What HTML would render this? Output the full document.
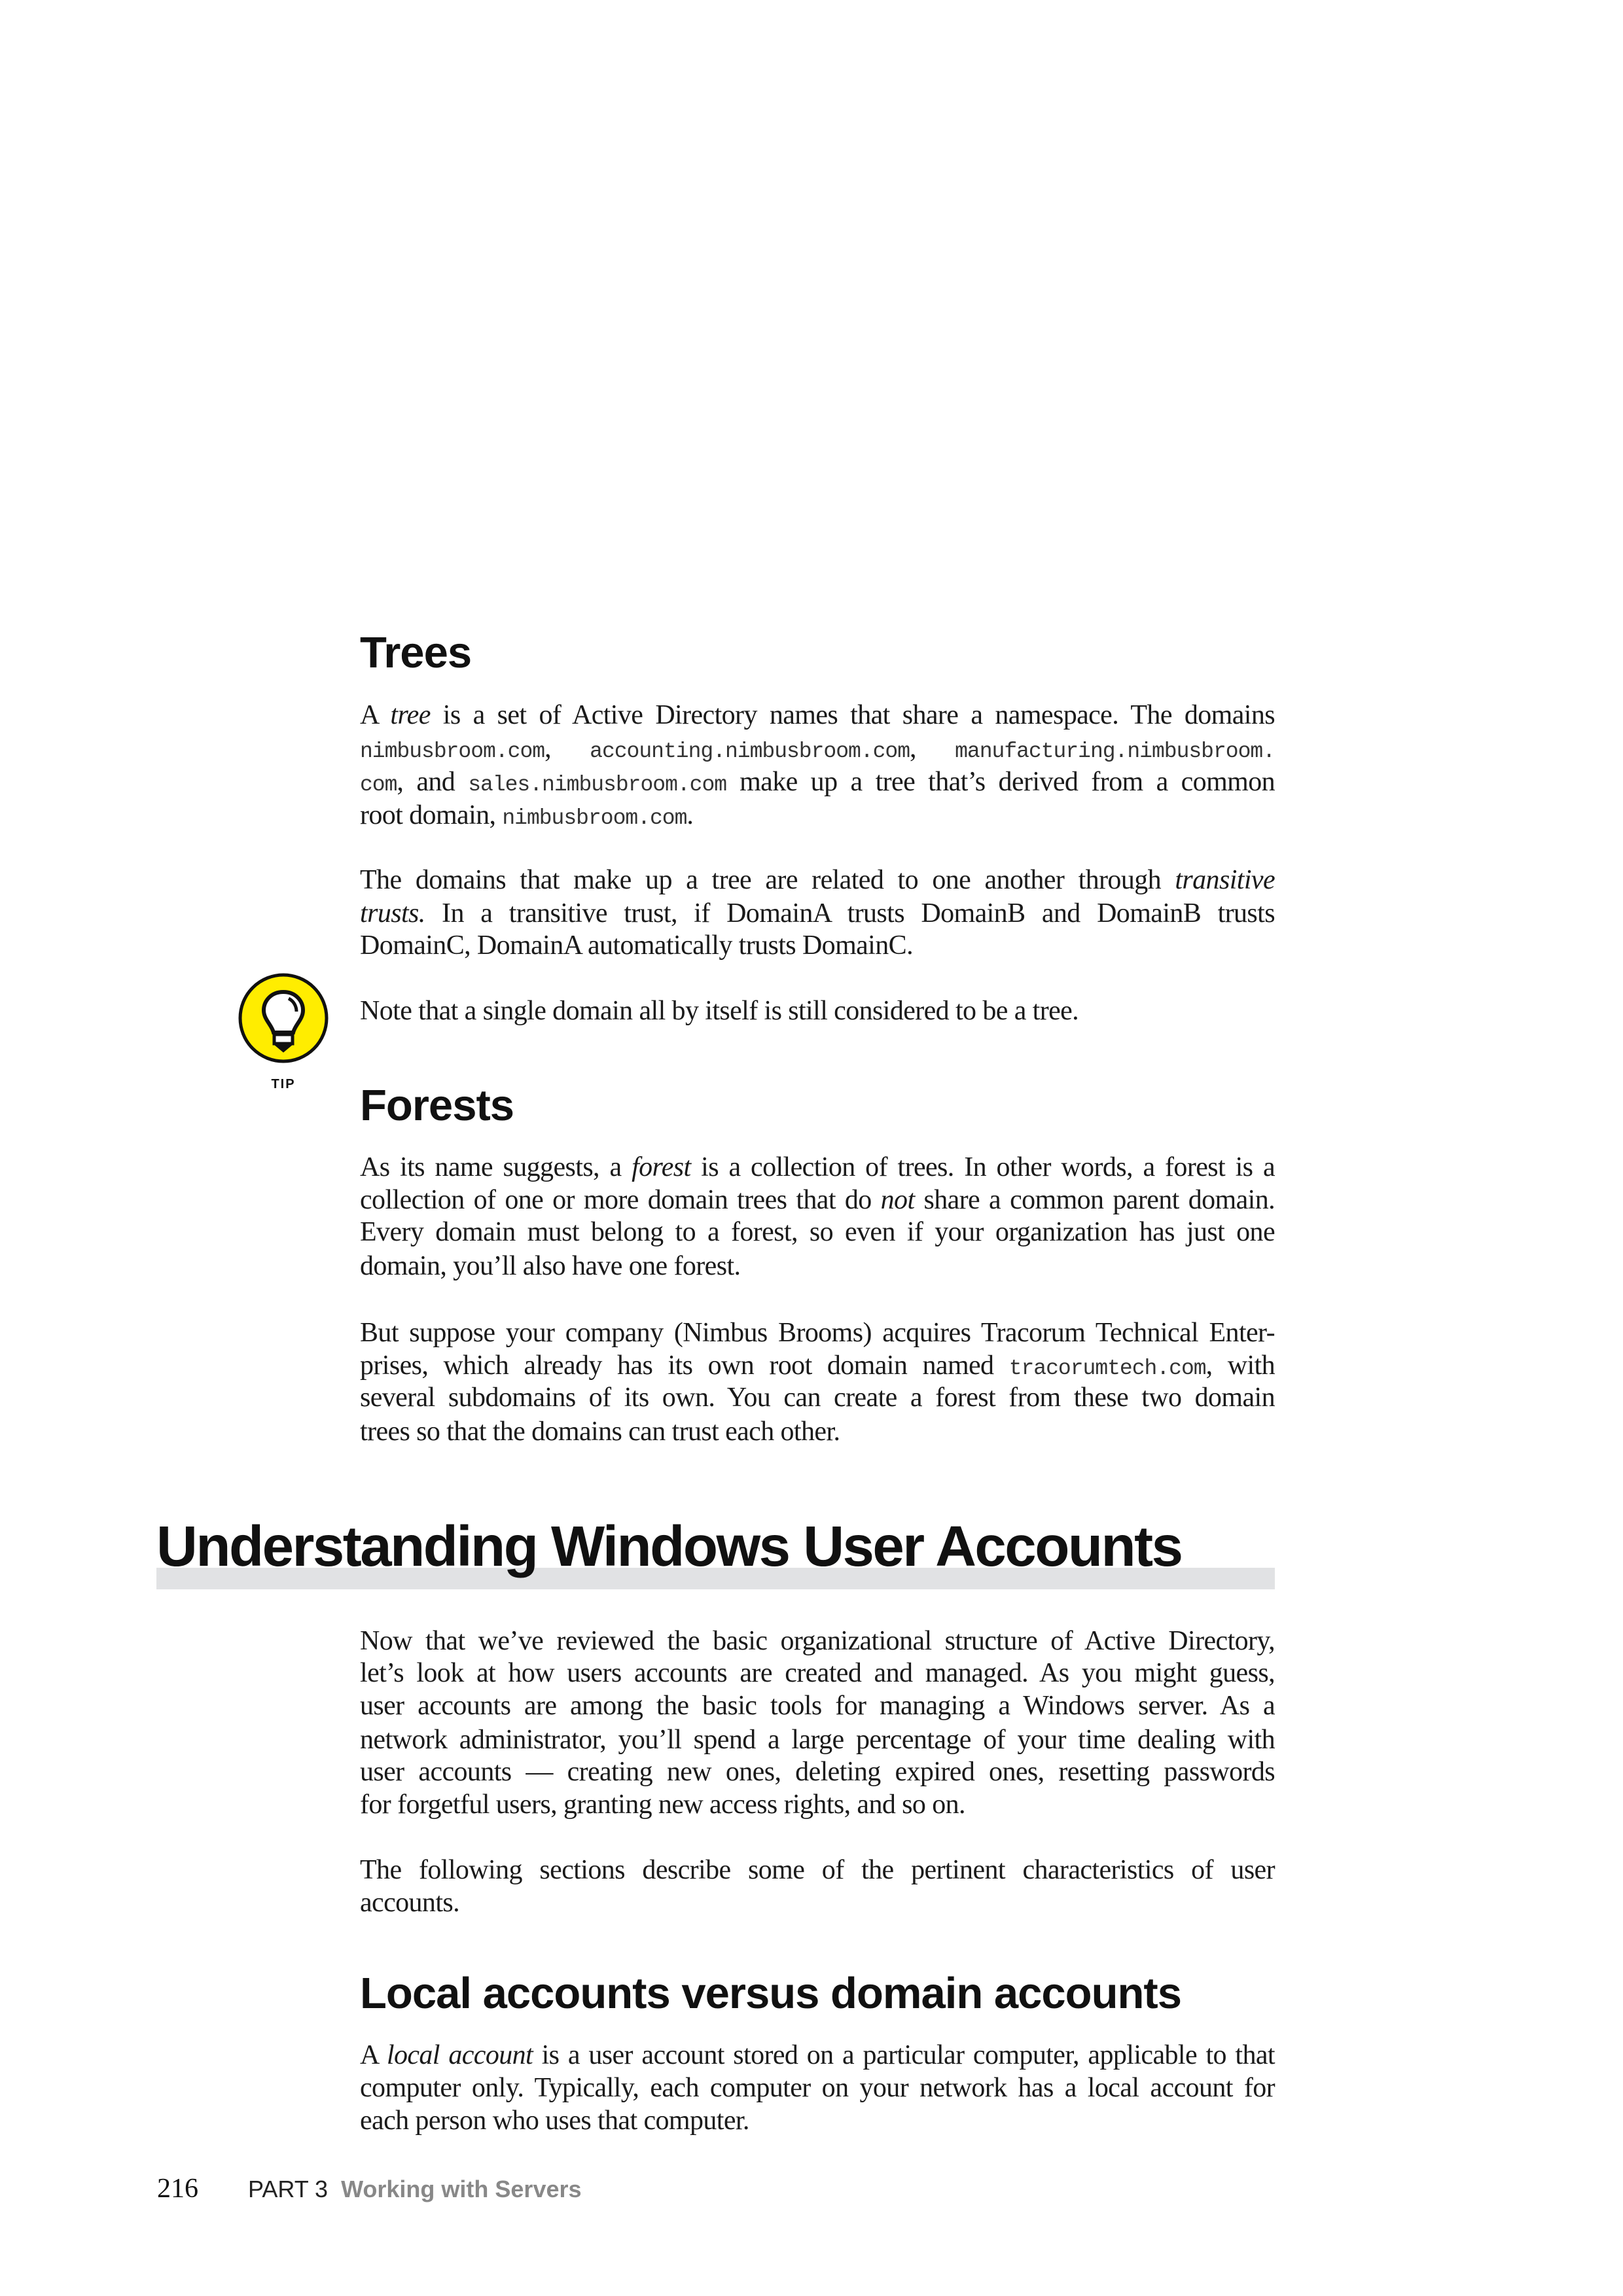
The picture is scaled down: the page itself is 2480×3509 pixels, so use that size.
<!DOCTYPE html>
<html><head><meta charset="utf-8"><style>
html,body{margin:0;padding:0;background:#fff;}
body{width:2480px;height:3509px;position:relative;overflow:hidden;}
.l{position:absolute;left:550px;width:1398px;font-family:"Liberation Serif",serif;font-size:42px;line-height:50px;height:50px;color:#1a1a1a;white-space:nowrap;letter-spacing:-0.6px;}
.j{text-align:justify;text-align-last:justify;white-space:normal;}
.m{font-family:"Liberation Mono",monospace;font-size:33px;color:#333;letter-spacing:-1px;}
.h{position:absolute;left:550px;font-family:"Liberation Sans",sans-serif;font-weight:bold;font-size:67px;line-height:64px;color:#111;letter-spacing:-1px;}
</style></head><body>

<div class="h" style="top:966px">Trees</div>
<div class="l j" style="top:1068px">A <i>tree</i> is a set of Active Directory names that share a namespace. The domains</div>
<div class="l j" style="top:1119px"><span class="m">nimbusbroom.com</span>, <span class="m">accounting.nimbusbroom.com</span>, <span class="m">manufacturing.nimbusbroom.</span></div>
<div class="l j" style="top:1170px"><span class="m">com</span>, and <span class="m">sales.nimbusbroom.com</span> make up a tree that’s derived from a common</div>
<div class="l" style="top:1221px">root domain, <span class="m">nimbusbroom.com</span>.</div>

<div class="l j" style="top:1320px">The domains that make up a tree are related to one another through <i>transitive</i></div>
<div class="l j" style="top:1371px"><i>trusts.</i> In a transitive trust, if DomainA trusts DomainB and DomainB trusts</div>
<div class="l" style="top:1420px">DomainC, DomainA automatically trusts DomainC.</div>

<svg style="position:absolute;left:363px;top:1486px" width="140" height="140" viewBox="0 0 140 140">
<circle cx="70" cy="70" r="66" fill="#FFED00" stroke="#111" stroke-width="5"/>
<path d="M70 30 C50 30 40 45 40 58 C40 72 52 80 55 92 L85 92 C88 80 100 72 100 58 C100 45 90 30 70 30 Z" fill="#fff" stroke="#111" stroke-width="6"/>
<path d="M78 40 C86 44 90 52 90 60" fill="none" stroke="#111" stroke-width="5"/>
<rect x="56" y="95" width="28" height="14" fill="#fff" stroke="#111" stroke-width="5"/>
<path d="M58 110 L70 120 L82 110" fill="#111" stroke="#111" stroke-width="4"/>
</svg>
<div style="position:absolute;left:383px;top:1646px;width:100px;text-align:center;font-family:'Liberation Sans',sans-serif;font-weight:bold;font-size:20px;letter-spacing:2px;color:#111">TIP</div>
<div class="l" style="top:1520px">Note that a single domain all by itself is still considered to be a tree.</div>

<div class="h" style="top:1658px">Forests</div>
<div class="l j" style="top:1759px">As its name suggests, a <i>forest</i> is a collection of trees. In other words, a forest is a</div>
<div class="l j" style="top:1809px">collection of one or more domain trees that do <i>not</i> share a common parent domain.</div>
<div class="l j" style="top:1858px">Every domain must belong to a forest, so even if your organization has just one</div>
<div class="l" style="top:1910px">domain, you’ll also have one forest.</div>

<div class="l j" style="top:2012px">But suppose your company (Nimbus Brooms) acquires Tracorum Technical Enter-</div>
<div class="l j" style="top:2062px">prises, which already has its own root domain named <span class="m">tracorumtech.com</span>, with</div>
<div class="l j" style="top:2111px">several subdomains of its own. You can create a forest from these two domain</div>
<div class="l" style="top:2163px">trees so that the domains can trust each other.</div>

<div style="position:absolute;left:239px;top:2396px;width:1709px;height:33px;background:#e1e2e4"></div>
<div style="position:absolute;left:239px;top:2320px;font-family:'Liberation Sans',sans-serif;font-weight:bold;font-size:87px;line-height:88px;letter-spacing:-2.5px;color:#111">Understanding Windows User Accounts</div>

<div class="l j" style="top:2483px">Now that we’ve reviewed the basic organizational structure of Active Directory,</div>
<div class="l j" style="top:2532px">let’s look at how users accounts are created and managed. As you might guess,</div>
<div class="l j" style="top:2582px">user accounts are among the basic tools for managing a Windows server. As a</div>
<div class="l j" style="top:2634px">network administrator, you’ll spend a large percentage of your time dealing with</div>
<div class="l j" style="top:2683px">user accounts — creating new ones, deleting expired ones, resetting passwords</div>
<div class="l" style="top:2733px">for forgetful users, granting new access rights, and so on.</div>

<div class="l j" style="top:2833px">The following sections describe some of the pertinent characteristics of user</div>
<div class="l" style="top:2883px">accounts.</div>

<div class="h" style="top:3015px">Local accounts versus domain accounts</div>
<div class="l j" style="top:3116px">A <i>local account</i> is a user account stored on a particular computer, applicable to that</div>
<div class="l j" style="top:3166px">computer only. Typically, each computer on your network has a local account for</div>
<div class="l" style="top:3216px">each person who uses that computer.</div>

<div style="position:absolute;left:240px;top:3325px;font-family:'Liberation Serif',serif;font-size:42px;line-height:40px;color:#111">216</div>
<div style="position:absolute;left:379px;top:3327px;font-family:'Liberation Sans',sans-serif;font-size:36px;line-height:38px;color:#222;white-space:nowrap">PART 3&nbsp; <b style="color:#888">Working with Servers</b></div>
</body></html>
